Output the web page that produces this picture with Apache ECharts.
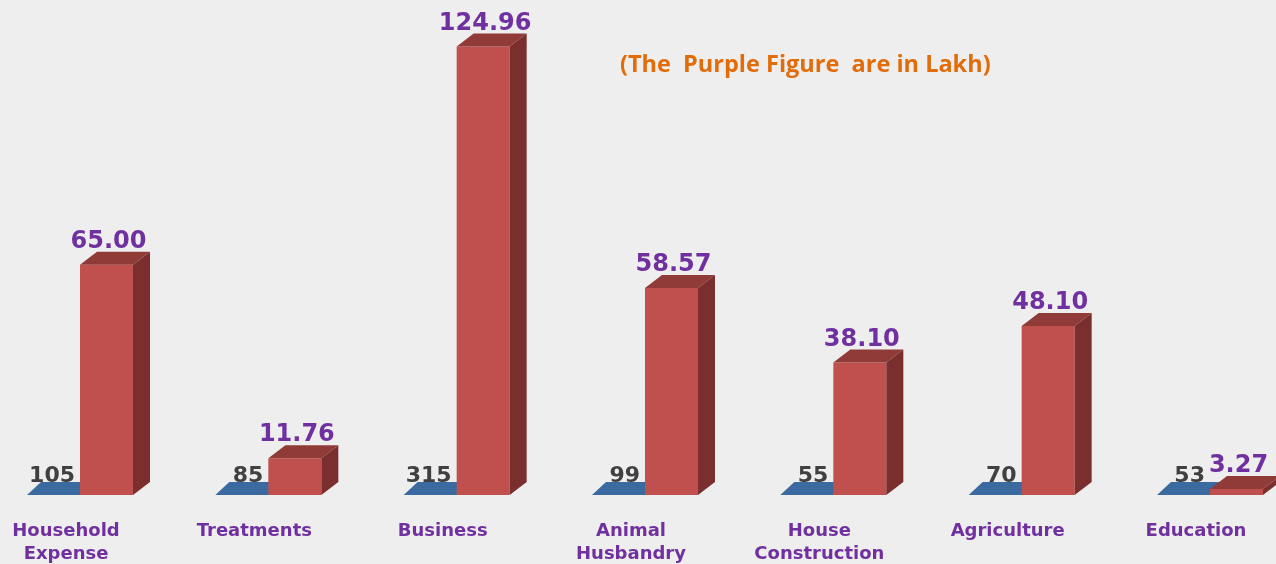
<!DOCTYPE html>
<html>
<head>
<meta charset="utf-8">
<script src="https://cdn.jsdelivr.net/npm/echarts@6/dist/echarts.min.js"></script>
<style>
  html, body { margin: 0; padding: 0; background: #eeeeee; }
  #chart { width: 1276px; height: 564px; }
</style>
</head>
<body>
<div id="chart"></div>
<script>
// categories and values
const categories = ['Household\nExpense', 'Treatments', 'Business', 'Animal\nHusbandry', 'House\nConstruction', 'Agriculture', 'Education'];
const counts = [105, 85, 315, 99, 55, 70, 53];          // blue (flat) series
const amounts = [65.00, 11.76, 124.96, 58.57, 38.10, 48.10, 3.27]; // red series, in Lakh

const BAR_W = 53;   // front face width
const DX = 17;      // depth offset
const DY = 13;
const LIFT = 6;     // bar foot sits a bit above the zero line

const chart = echarts.init(document.getElementById('chart'));

function renderBlue(params, api) {
  const i = api.value(0);
  const base = api.coord([i, 0]);
  const x = base[0];
  const yb = base[1] - LIFT;
  return {
    type: 'group',
    children: [
      {
        type: 'polygon',
        shape: { points: [[x - BAR_W, yb], [x - BAR_W + DX - 3, yb - DY], [x + DX, yb - DY], [x, yb]] },
        style: { fill: '#3a6a9f' }
      },
      {
        type: 'text',
        style: {
          text: String(counts[i]),
          x: x - 5, y: yb - DY - 6,
          align: 'right', verticalAlign: 'middle',
          font: 'bold 22px "DejaVu Sans"', fill: '#404040'
        }
      }
    ]
  };
}

function renderRed(params, api) {
  const i = api.value(0);
  const base = api.coord([i, 0]);
  const top = api.coord([i, api.value(1)]);
  const x = base[0];
  const yb = base[1] - LIFT;
  const yt = Math.min(top[1], yb - 1);
  const r = x + BAR_W;
  return {
    type: 'group',
    children: [
      {
        type: 'rect',
        shape: { x: x, y: yt, width: BAR_W, height: yb - yt },
        style: { fill: '#c0504d' }
      },
      {
        type: 'polygon',
        shape: { points: [[x, yt], [x + DX, yt - DY], [r + DX, yt - DY], [r, yt]] },
        style: { fill: '#913b39' }
      },
      {
        type: 'polygon',
        shape: { points: [[r, yt], [r + DX, yt - DY], [r + DX, yb - DY], [r, yb]] },
        style: { fill: '#7a2f2e' }
      },
      {
        type: 'text',
        style: {
          text: amounts[i].toFixed(2),
          x: x + BAR_W / 2 + 2, y: yt - 23,
          align: 'center', verticalAlign: 'middle',
          font: 'bold 24px "DejaVu Sans"', fill: '#7030a0'
        }
      }
    ]
  };
}

chart.setOption({
  backgroundColor: '#eeeeee',
  animation: false,
  grid: { left: 0, right: 0, top: 21, bottom: 63, outerBoundsMode: 'none', containLabel: false },
  xAxis: {
    type: 'value',
    min: -0.4248,
    max: 6.3505,
    splitLine: { show: false },
    axisLine: { show: false },
    axisTick: { show: false },
    axisLabel: {
      customValues: [0, 1, 2, 3, 4, 5, 6],
      formatter: (v) => categories[Math.round(v)],
      margin: 19,
      color: '#7030a0',
      fontFamily: 'DejaVu Sans',
      fontWeight: 'bold',
      fontSize: 18,
      lineHeight: 23,
      padding: [0, 28, 0, 0]
    }
  },
  yAxis: {
    type: 'value',
    min: 0,
    max: 132,
    show: false
  },
  graphic: [
    {
      type: 'text',
      left: 620,
      top: 53,
      style: {
        text: '(The  Purple Figure  are in Lakh)',
        font: 'bold 23.5px "Open Sans"',
        fill: '#e36c0a'
      }
    }
  ],
  series: [
    {
      type: 'custom',
      renderItem: renderBlue,
      data: counts.map((c, i) => [i, c])
    },
    {
      type: 'custom',
      renderItem: renderRed,
      data: amounts.map((a, i) => [i, a])
    }
  ]
});
</script>
</body>
</html>
